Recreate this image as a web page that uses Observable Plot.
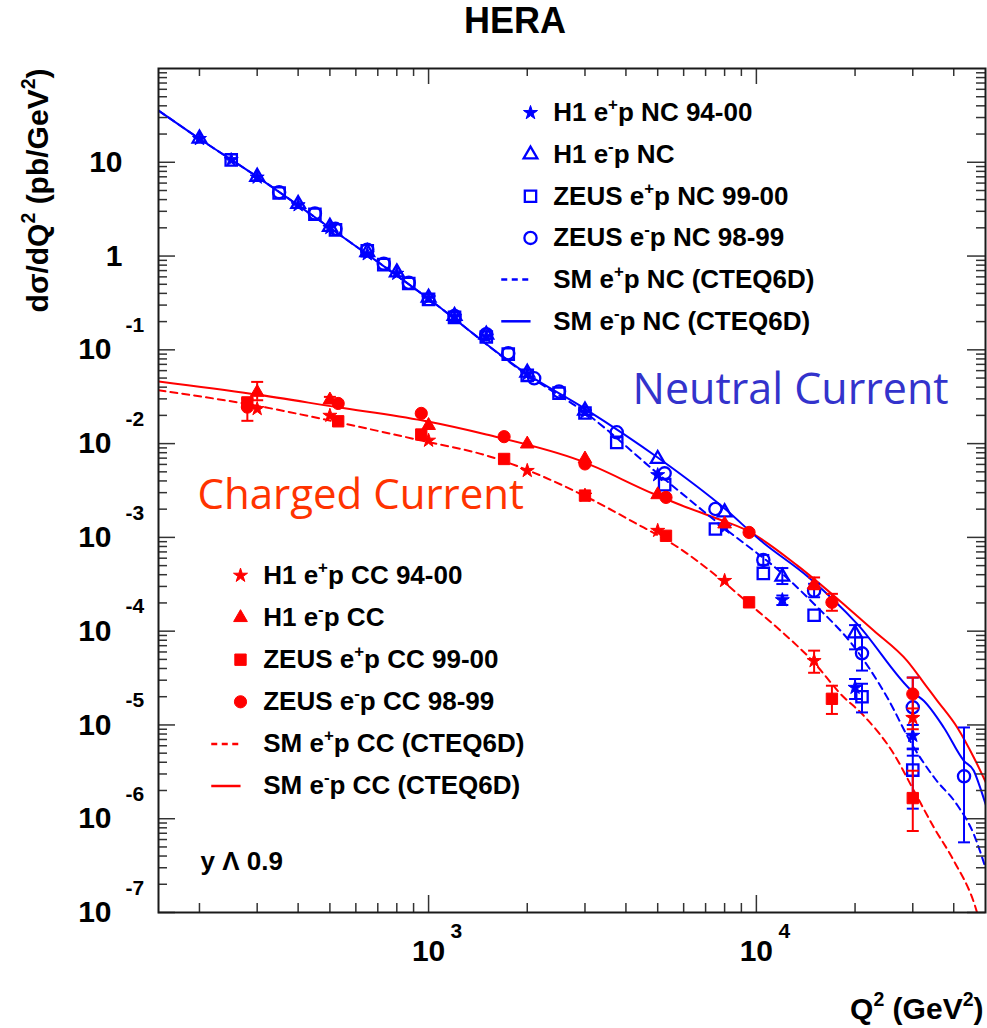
<!DOCTYPE html>
<html><head><meta charset="utf-8">
<script src="https://cdn.jsdelivr.net/npm/d3@7"></script>
<script src="https://cdn.jsdelivr.net/npm/@observablehq/plot@0.6"></script>
<style>
body{margin:0;background:#fff;}
#title{height:50px;line-height:55px;font:bold 36px "Liberation Sans",Arial,Helvetica,sans-serif;text-align:center;padding-left:43px;width:944px;overflow:visible;white-space:nowrap}
#chart svg{display:block}
</style></head><body>
<div id="title">HERA</div>
<div id="chart"></div>
<script>
// ---------- data (Q² in GeV², dσ/dQ² in pb/GeV²) ----------
// Neutral current
const h1EpNC_q2 = [200,250,300,400,500,650,800,1000,1200,1500,2000,3000,5000,8000,12000,20000,30000];
const h1EpNC_xs = [17.8,10.6,6.9,3.5,2.0,1.05,0.65,0.355,0.225,0.138,0.0553,0.0216,0.00463,0.00128,2.15e-4,2.5e-5,7.7e-6];
const h1EpNC_lo = [null,null,null,null,null,null,null,null,null,null,null,null,null,null,1.9e-4,1.89e-5,5.6e-6];
const h1EpNC_hi = [null,null,null,null,null,null,null,null,null,null,null,null,null,null,2.4e-4,3.09e-5,1.0e-5];

const h1EmNC_q2 = [200,300,400,500,650,800,1000,1200,1500,2000,3000,5000,8000,12000,20000];
const h1EmNC_xs = [17.9,7.0,3.6,2.05,1.1,0.67,0.36,0.23,0.145,0.057,0.0225,0.00686,0.00185,3.81e-4,9.46e-5];
const h1EmNC_lo = [null,null,null,null,null,null,null,null,null,null,null,null,null,3.18e-4,6.4e-5];
const h1EmNC_hi = [null,null,null,null,null,null,null,null,null,null,null,null,null,4.71e-4,1.16e-4];

const zeusEpNC_q2 = [250,350,450,520,650,730,870,1000,1200,1500,1750,2000,2500,3000,3750,5250,7500,10500,15000,21000,30000];
const zeusEpNC_xs = [10.6,4.7,2.79,1.9,1.14,0.81,0.51,0.345,0.222,0.137,0.09,0.0535,0.0345,0.0212,0.0103,0.00365,0.00123,4.13e-4,1.48e-4,2.0e-5,3.3e-6];
const zeusEpNC_lo = [null,null,null,null,null,null,null,null,null,null,null,null,null,null,null,null,null,null,null,1.36e-5,1.28e-6];
const zeusEpNC_hi = [null,null,null,null,null,null,null,null,null,null,null,null,null,null,null,null,null,null,null,2.75e-5,5.5e-6];

const zeusEmNC_q2 = [350,450,520,650,730,870,1200,1500,1750,2100,2500,3750,5250,7500,10500,15000,21000,30000,43000];
const zeusEmNC_xs = [4.8,2.85,1.95,1.17,0.83,0.52,0.23,0.147,0.092,0.0497,0.036,0.0132,0.00482,0.00201,5.74e-4,2.7e-4,5.8e-5,1.54e-5,2.83e-6];
const zeusEmNC_lo = [null,null,null,null,null,null,null,null,null,null,null,null,null,null,5.1e-4,2.3e-4,3.8e-5,4.7e-6,5.6e-7];
const zeusEmNC_hi = [null,null,null,null,null,null,null,null,null,null,null,null,null,null,6.5e-4,3.2e-4,8.6e-5,3.2e-5,9.4e-6];

// Charged current
const h1EpCC_q2 = [300,500,1000,2000,3000,5000,8000,15000,30000];
const h1EpCC_xs = [0.0235,0.0199,0.0108,0.00514,0.0028,0.00118,3.45e-4,4.82e-5,1.19e-5];
const h1EpCC_lo = [null,null,null,null,null,null,null,3.6e-5,9.0e-6];
const h1EpCC_hi = [null,null,null,null,null,null,null,6.2e-5,1.5e-5];

const h1EmCC_q2 = [300,500,1000,2000,3000,5000,8000,15000];
const h1EmCC_xs = [0.0352,0.0292,0.0156,0.0099,0.00686,0.00285,0.00139,3.13e-4];
const h1EmCC_lo = [0.029,0.027,null,null,null,null,null,2.8e-4];
const h1EmCC_hi = [0.0455,0.0315,null,null,null,null,null,3.74e-4];

const zeusEpCC_q2 = [280,530,950,1700,3000,5300,9500,17000,30000];
const zeusEpCC_xs = [0.0275,0.0173,0.0125,0.00686,0.00279,0.00104,2.03e-4,1.9e-5,1.66e-6];
const zeusEpCC_lo = [null,null,null,null,null,null,null,1.31e-5,7.4e-7];
const zeusEpCC_hi = [null,null,null,null,null,null,null,2.62e-5,3.25e-6];

const zeusEmCC_q2 = [280,530,950,1700,3000,5300,9500,17000,30000];
const zeusEmCC_xs = [0.0245,0.0268,0.021,0.01186,0.00607,0.00267,0.00113,2.03e-4,2.14e-5];
const zeusEmCC_lo = [0.0175,null,null,null,null,null,null,1.65e-4,1.25e-5];
const zeusEmCC_hi = [0.030,null,null,null,null,null,null,2.5e-4,3.2e-5];

// SM predictions (CTEQ6D)
const smEmNC_q2 = [150,200,300,500,1000,2000,3000,5000,8000,10300,14450,20330,30200,32400,37300,42950,46060,47750,50400];
const smEmNC_xs = [35.6,17.8,7.0,2.0,0.35,0.055,0.0235,0.0071,0.00203,9.25e-4,3.74e-4,1.19e-4,2.2e-5,1.81e-5,9.4e-6,4.15e-6,3.25e-6,2.34e-6,1.32e-6];
const smEpNC_q2 = [150,200,300,500,1000,2000,3000,5000,8000,12000,15000,20000,25000,30000,35000,41000,46000,50000];
const smEpNC_xs = [35.6,17.8,7.0,2.0,0.35,0.054,0.0215,0.0048,0.00125,4.1e-4,1.95e-4,6.6e-5,2.0e-5,6.0e-6,2.7e-6,1.4e-6,6.9e-7,3.0e-7];
const smEmCC_q2 = [150,290,528,960,1500,2900,4870,5900,7430,9390,13340,18950,22830,28840,33200,35650,41000,46060,50400];
const smEmCC_xs = [0.046,0.0339,0.0244,0.0176,0.0125,0.00658,0.0029,0.0022,0.00163,0.00118,5.0e-4,1.79e-4,1.01e-4,4.82e-5,2.51e-5,1.81e-5,9.4e-6,4.5e-6,2.34e-6];
const smEpCC_q2 = [150,298,528,959,1495,2913,4140,5877,7430,9390,11860,14980,18070,21280,26270,30240,34800,40030,46620,48500];
const smEpCC_xs = [0.037,0.0254,0.0169,0.0107,0.0075,0.0029,0.00151,7.5e-4,4.07e-4,2.03e-4,1.01e-4,4.64e-5,2.14e-5,1.25e-5,4.9e-6,1.99e-6,8.07e-7,3.56e-7,1.13e-7,7e-8];

// ticks and labels
const xMajor = [1e3, 1e4];
const xTickBase = ["10", "10"];
const xTickExp = ["3", "4"];
const xMinor = [200,300,400,500,600,700,800,900,2000,3000,4000,5000,6000,7000,8000,9000,20000,30000,40000];
const yMajor = [1e1, 1e0, 1e-1, 1e-2, 1e-3, 1e-4, 1e-5, 1e-6, 1e-7];
const yTickBase = ["10", "1", "10", "10", "10", "10", "10", "10", "10"];
const yTickExp = ["", "", "-1", "-2", "-3", "-4", "-5", "-6", "-7"];
const yDecades = [1e-7, 1e-6, 1e-5, 1e-4, 1e-3, 1e-2, 1e-1, 1e0, 1e1];
const yMinor = yDecades.flatMap(d => [2,3,4,5,6,7,8,9].map(m => m * d));

const ncLabels = ["H1 e^{+}p NC 94-00", "H1 e^{-}p NC", "ZEUS e^{+}p NC 99-00", "ZEUS e^{-}p NC 98-99", "SM e^{+}p NC (CTEQ6D)", "SM e^{-}p NC (CTEQ6D)"];
const ccLabels = ["H1 e^{+}p CC 94-00", "H1 e^{-}p CC", "ZEUS e^{+}p CC 99-00", "ZEUS e^{-}p CC 98-99", "SM e^{+}p CC (CTEQ6D)", "SM e^{-}p CC (CTEQ6D)"];

// ---------- styling ----------
const FONT = '"Liberation Sans", Arial, Helvetica, sans-serif';
const BLUE = "#0000ff", RED = "#ff0000";
const W = 987, H = 978, ML = 158, MR = 2, MT = 18, MB = 116;
const FW = W - ML - MR, FH = H - MT - MB;

const pts = (q, v, lo, hi) => q.map((d, i) => ({q2: d, xs: v[i], lo: lo ? lo[i] : null, hi: hi ? hi[i] : null}));
const curve = (q, v) => q.map((d, i) => ({q2: d, xs: v[i]}));

const cap = {draw(ctx) { ctx.moveTo(-6, 0); ctx.lineTo(6, 0); }};
const hLine = (w) => ({draw(ctx) { ctx.moveTo(-w / 2, 0); ctx.lineTo(w / 2, 0); }});
const R = {star: 4.4, triangle: 5.1, square: 6.4, circle: 6.1};

const series = [
  {data: pts(h1EpNC_q2, h1EpNC_xs, h1EpNC_lo, h1EpNC_hi), symbol: "star", color: BLUE, filled: true},
  {data: pts(h1EmNC_q2, h1EmNC_xs, h1EmNC_lo, h1EmNC_hi), symbol: "triangle", color: BLUE, filled: false},
  {data: pts(zeusEpNC_q2, zeusEpNC_xs, zeusEpNC_lo, zeusEpNC_hi), symbol: "square", color: BLUE, filled: false},
  {data: pts(zeusEmNC_q2, zeusEmNC_xs, zeusEmNC_lo, zeusEmNC_hi), symbol: "circle", color: BLUE, filled: false},
  {data: pts(h1EpCC_q2, h1EpCC_xs, h1EpCC_lo, h1EpCC_hi), symbol: "star", color: RED, filled: true},
  {data: pts(h1EmCC_q2, h1EmCC_xs, h1EmCC_lo, h1EmCC_hi), symbol: "triangle", color: RED, filled: true},
  {data: pts(zeusEpCC_q2, zeusEpCC_xs, zeusEpCC_lo, zeusEpCC_hi), symbol: "square", color: RED, filled: true},
  {data: pts(zeusEmCC_q2, zeusEmCC_xs, zeusEmCC_lo, zeusEmCC_hi), symbol: "circle", color: RED, filled: true}
];
const curves = [
  {data: curve(smEpCC_q2, smEpCC_xs), color: RED, dash: "7,5"},
  {data: curve(smEmCC_q2, smEmCC_xs), color: RED, dash: null},
  {data: curve(smEpNC_q2, smEpNC_xs), color: BLUE, dash: "7,5"},
  {data: curve(smEmNC_q2, smEmNC_xs), color: BLUE, dash: null}
];

const markerStyle = (s) => s.filled
  ? {fill: s.color, stroke: s.color, strokeWidth: 1}
  : {fill: "none", stroke: s.color, strokeWidth: 2.3};

function seriesMarks(s) {
  const errs = s.data.filter(d => d.lo != null);
  return [
    Plot.ruleX(errs, {x: "q2", y1: "lo", y2: "hi", stroke: s.color, strokeWidth: 2}),
    Plot.dot(errs, {x: "q2", y: "lo", symbol: cap, r: 5, fill: "none", stroke: s.color, strokeWidth: 2}),
    Plot.dot(errs, {x: "q2", y: "hi", symbol: cap, r: 5, fill: "none", stroke: s.color, strokeWidth: 2}),
    Plot.dot(s.data, {x: "q2", y: "xs", symbol: s.symbol, r: R[s.symbol], ...markerStyle(s)})
  ];
}

function legendMarks(labels, sers, lineColor, x0, y0, step) {
  const marks = [];
  labels.forEach((lab, i) => {
    const dy = y0 + step * i;
    if (i < 4) {
      const s = sers[i];
      marks.push(Plot.dot([0], {frameAnchor: "top-left", dx: x0, dy, symbol: s.symbol, r: R[s.symbol], ...markerStyle(s)}));
    } else {
      marks.push(Plot.dot([0], {frameAnchor: "top-left", dx: x0 - 14.6, dy, symbol: hLine(29.3), r: 1, fill: "none", stroke: lineColor, strokeWidth: 2.5, strokeDasharray: i === 4 ? "6,4.5" : null}));
    }
    marks.push(Plot.text([0], {frameAnchor: "top-left", dx: x0 + 22.7, dy, text: () => lab, textAnchor: "start", lineAnchor: "middle", fontSize: 26, fontWeight: "bold", fontFamily: FONT}));
  });
  return marks;
}

const plainY = yMajor.filter((d, i) => yTickExp[i] === "");
const expY = yMajor.filter((d, i) => yTickExp[i] !== "");
const txt = {fontWeight: "bold", fontFamily: FONT};

const chart = Plot.plot({
  width: W, height: H,
  marginLeft: ML, marginRight: MR, marginTop: MT, marginBottom: MB,
  x: {type: "log", domain: [150, 50000], axis: null},
  y: {type: "log", domain: [1e-7, 100], axis: null},
  style: {fontFamily: FONT, background: "white", overflow: "visible"},
  marks: [
    // curves
    ...curves.map(c => Plot.line(c.data, {x: "q2", y: "xs", stroke: c.color, strokeWidth: 2, strokeDasharray: c.dash, curve: "monotone-x", clip: true})),
    // data
    ...series.flatMap(seriesMarks),
    // ticks (inside frame)
    Plot.tickX(xMajor, {x: d => d, insetTop: FH - 17, stroke: "#333", strokeWidth: 1.5}),
    Plot.tickX(xMinor, {x: d => d, insetTop: FH - 9, stroke: "#333", strokeWidth: 1.5}),
    Plot.tickX(xMajor, {x: d => d, insetBottom: FH - 16, stroke: "#333", strokeWidth: 1.5}),
    Plot.tickX(xMinor, {x: d => d, insetBottom: FH - 8, stroke: "#333", strokeWidth: 1.5}),
    Plot.tickY(yMajor, {y: d => d, insetRight: FW - 17, stroke: "#333", strokeWidth: 1.5}),
    Plot.tickY(yMinor, {y: d => d, insetRight: FW - 9, stroke: "#333", strokeWidth: 1.5}),
    Plot.tickY(yMajor, {y: d => d, insetLeft: FW - 18, stroke: "#333", strokeWidth: 1.5}),
    Plot.tickY(yMinor, {y: d => d, insetLeft: FW - 9, stroke: "#333", strokeWidth: 1.5}),
    Plot.frame({stroke: "#1a1a1a", strokeWidth: 2}),
    // tick labels
    Plot.text(xMajor, {x: d => d, text: (d, i) => xTickBase[i], frameAnchor: "bottom", dy: 39, lineAnchor: "middle", fontSize: 30, ...txt}),
    Plot.text(xMajor, {x: d => d, text: (d, i) => xTickExp[i], frameAnchor: "bottom", dx: 22, dy: 19, textAnchor: "start", lineAnchor: "middle", fontSize: 21, ...txt}),
    Plot.text(plainY, {y: d => d, text: d => yTickBase[yMajor.indexOf(d)], frameAnchor: "left", dx: -36, textAnchor: "end", lineAnchor: "middle", fontSize: 30, ...txt}),
    Plot.text(expY, {y: d => d, text: d => yTickBase[yMajor.indexOf(d)], frameAnchor: "left", dx: -47, textAnchor: "end", lineAnchor: "middle", fontSize: 30, ...txt}),
    Plot.text(expY, {y: d => d, text: d => yTickExp[yMajor.indexOf(d)], frameAnchor: "left", dx: -33, dy: -24.5, textAnchor: "start", lineAnchor: "middle", fontSize: 21, ...txt}),
    // axis titles
    Plot.text([0], {frameAnchor: "top-left", text: () => "dσ/dQ^{2} (pb/GeV^{2})", rotate: -90, dx: -111, dy: 0, textAnchor: "end", lineAnchor: "bottom", fontSize: 30, ...txt}),
    Plot.text([0], {frameAnchor: "bottom-right", text: () => "Q^{2} (GeV^{2})", dx: -2, dy: 106, textAnchor: "end", lineAnchor: "bottom", fontSize: 30, ...txt}),
    // annotations
    Plot.text([0], {frameAnchor: "top-left", text: () => "Neutral Current", dx: 474, dy: 335, textAnchor: "start", lineAnchor: "bottom", fontSize: 43, fill: "#3333cc", fontFamily: '"Comic Sans MS", "Open Sans", sans-serif'}),
    Plot.text([0], {frameAnchor: "top-left", text: () => "Charged Current", dx: 39, dy: 440, textAnchor: "start", lineAnchor: "bottom", fontSize: 42, fill: "#ff3300", fontFamily: '"Comic Sans MS", "Open Sans", sans-serif'}),
    Plot.text([0], {frameAnchor: "bottom-left", text: () => "y Λ 0.9", dx: 42, dy: -43, textAnchor: "start", lineAnchor: "bottom", fontSize: 26, ...txt}),
    // legends
    ...legendMarks(ncLabels, series.slice(0, 4), BLUE, 372, 44.3, 41.7),
    ...legendMarks(ccLabels, series.slice(4, 8), RED, 82, 507, 42.1)
  ]
});

// render ^{...} as superscripts
function applySup(svg) {
  const ns = "http://www.w3.org/2000/svg";
  svg.querySelectorAll("text").forEach(t => {
    if (t.querySelector("tspan")) return;
    const s = t.textContent;
    if (!s.includes("^{")) return;
    const fs = parseFloat(getComputedStyle(t).fontSize) || 20;
    const parts = s.split(/\^\{([^}]*)\}/);
    t.textContent = "";
    let shift = 0;
    parts.forEach((p, i) => {
      if (!p) return;
      const sup = i % 2 === 1;
      const target = sup ? -0.42 * fs : 0;
      const ts = document.createElementNS(ns, "tspan");
      if (target - shift) ts.setAttribute("dy", target - shift);
      shift = target;
      if (sup) ts.setAttribute("font-size", 0.65 * fs);
      ts.textContent = p;
      t.appendChild(ts);
    });
  });
}
document.getElementById("chart").appendChild(chart);
applySup(chart);
</script></body></html>
